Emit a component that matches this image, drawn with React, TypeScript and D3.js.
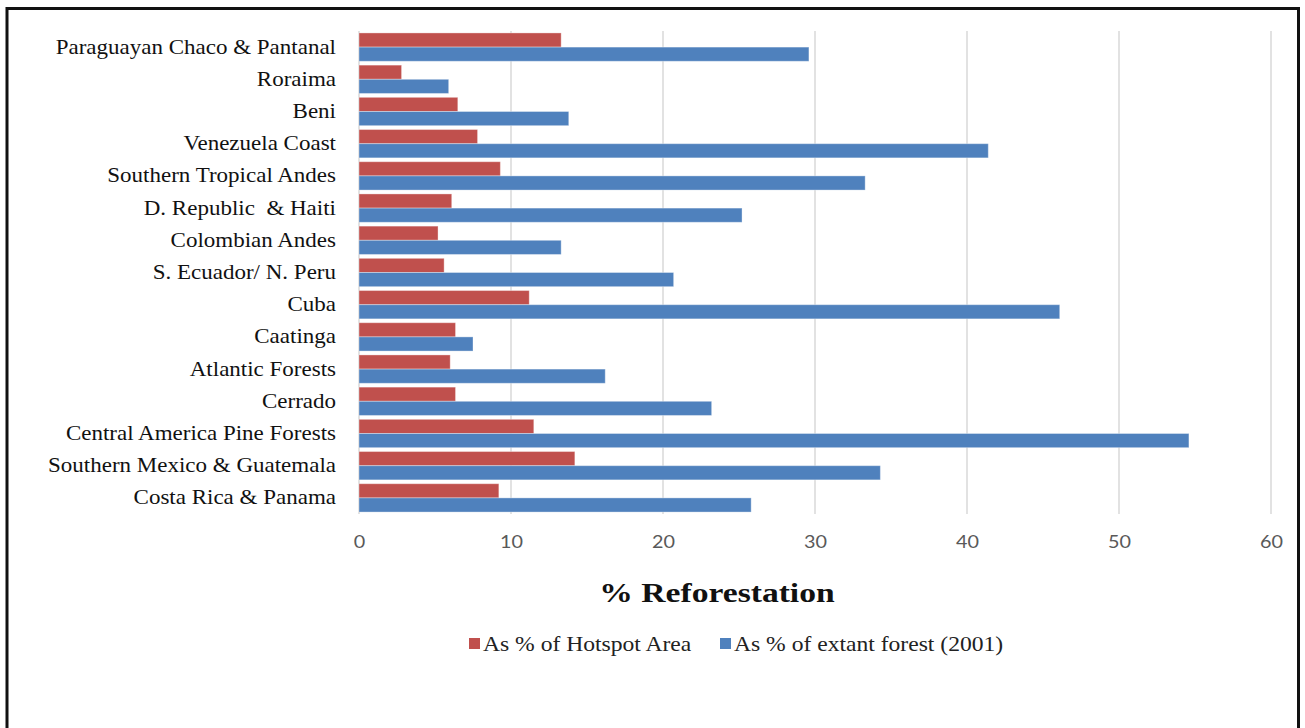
import { useEffect, useRef } from "react";
import * as d3 from "d3";

const regions = [
  "Paraguayan Chaco & Pantanal",
  "Roraima",
  "Beni",
  "Venezuela Coast",
  "Southern Tropical Andes",
  "D. Republic  & Haiti",
  "Colombian Andes",
  "S. Ecuador/ N. Peru",
  "Cuba",
  "Caatinga",
  "Atlantic Forests",
  "Cerrado",
  "Central America Pine Forests",
  "Southern Mexico & Guatemala",
  "Costa Rica & Panama",
];

const hotspotArea = [13.3, 2.8, 6.5, 7.8, 9.3, 6.1, 5.2, 5.6, 11.2, 6.35, 6.0, 6.35, 11.5, 14.2, 9.2];
const extantForest = [29.6, 5.9, 13.8, 41.4, 33.3, 25.2, 13.3, 20.7, 46.1, 7.5, 16.2, 23.2, 54.6, 34.3, 25.8];

const xTicks = [0, 10, 20, 30, 40, 50, 60];

const seriesNames = ["As % of Hotspot Area", "As % of extant forest (2001)"];
const seriesColors = ["#C0504D", "#4F81BD"];

const App = () => {
  const ref = useRef<SVGSVGElement | null>(null);

  useEffect(() => {
    if (!ref.current) return;
    const width = 1305;
    const height = 728;
    const margin = { top: 31, right: 34, bottom: 214, left: 359 };
    const serif = "'Liberation Serif', 'Times New Roman', serif";
    // the source picture is stretched sideways a little
    const stretch = 1.15;

    const svg = d3.select(ref.current);
    svg.selectAll("*").remove();

    svg.append("rect").attr("width", width).attr("height", height).attr("fill", "white");

    // frame
    svg
      .append("rect")
      .attr("x", 7)
      .attr("y", 8.5)
      .attr("width", 1291.5)
      .attr("height", 740)
      .attr("fill", "none")
      .attr("stroke", "#111")
      .attr("stroke-width", 3);

    const x = d3
      .scaleLinear()
      .domain([0, 60])
      .range([margin.left, width - margin.right]);

    const y = d3
      .scaleBand()
      .domain(regions)
      .range([margin.top, height - margin.bottom])
      .paddingInner(0.12)
      .paddingOuter(0.06);

    const inner = d3.scaleBand().domain(["0", "1"]).range([0, y.bandwidth()]);

    // gridlines
    svg
      .append("g")
      .selectAll("line")
      .data(xTicks)
      .join("line")
      .attr("x1", (d) => x(d))
      .attr("x2", (d) => x(d))
      .attr("y1", margin.top)
      .attr("y2", height - margin.bottom)
      .attr("stroke", "#d9d9d9")
      .attr("stroke-width", 1.5);

    // bars
    const rows = regions.map((r, i) => ({ region: r, values: [hotspotArea[i], extantForest[i]] }));
    const groups = svg
      .append("g")
      .selectAll("g")
      .data(rows)
      .join("g")
      .attr("transform", (d) => `translate(0,${y(d.region)})`);

    groups
      .selectAll("rect")
      .data((d) => d.values.map((v, k) => ({ v, k })))
      .join("rect")
      .attr("x", x(0))
      .attr("y", (d) => inner(String(d.k))!)
      .attr("width", (d) => x(d.v) - x(0))
      .attr("height", inner.bandwidth())
      .attr("fill", (d) => seriesColors[d.k])
      .attr("stroke", "rgba(255,255,255,0.35)")
      .attr("stroke-width", 1);

    // x axis labels
    const xAxis = svg
      .append("g")
      .attr("transform", `translate(0,${height - margin.bottom})`)
      .call(d3.axisBottom(x).tickValues(xTicks).tickSize(0).tickPadding(21));
    xAxis.select(".domain").remove();
    xAxis
      .selectAll("text")
      .attr("fill", "#595959")
      .attr("font-size", 18)
      .attr("font-family", "Lato, 'Open Sans', sans-serif")
      .attr("transform", "scale(1.1,1)")
      .attr("x", 0);

    // y axis labels
    const yAxis = svg
      .append("g")
      .attr("transform", `translate(${margin.left},0)`)
      .call(d3.axisLeft(y).tickSize(0).tickPadding(20));
    yAxis.select(".domain").remove();
    yAxis
      .selectAll("text")
      .attr("fill", "#111")
      .attr("font-size", 20)
      .attr("font-family", serif)
      .attr("transform", `scale(${stretch},1)`)
      .style("white-space", "pre");

    // axis title
    svg
      .append("text")
      .attr("transform", `translate(717,602) scale(1.2,1)`)
      .attr("text-anchor", "middle")
      .attr("font-family", serif)
      .attr("font-weight", "bold")
      .attr("font-size", 28)
      .attr("fill", "#111")
      .text("% Reforestation");

    // legend
    const legend = svg
      .append("g")
      .selectAll("g")
      .data(seriesNames)
      .join("g")
      .attr("transform", (_, i) => `translate(${i === 0 ? 469 : 720},0)`);
    legend
      .append("rect")
      .attr("x", 0)
      .attr("y", 638)
      .attr("width", 11)
      .attr("height", 11)
      .attr("fill", (_, i) => seriesColors[i]);
    legend
      .append("text")
      .attr("transform", "translate(14,651) scale(1.18,1)")
      .attr("font-family", serif)
      .attr("font-size", 20)
      .attr("fill", "#222")
      .text((d) => d);
  }, []);

  return (
    <div style={{ position: "fixed", left: 0, top: 0 }}>
      <svg ref={ref} width={1305} height={728} style={{ display: "block" }}></svg>
    </div>
  );
};

export default App;
